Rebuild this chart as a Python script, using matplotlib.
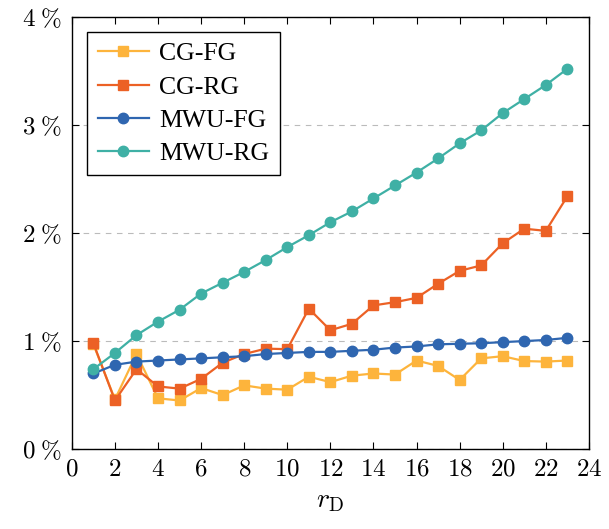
import matplotlib
matplotlib.use("Agg")
import matplotlib.pyplot as plt
from matplotlib.ticker import FuncFormatter

plt.rcParams.update({
    "font.family": ["Liberation Serif", "DejaVu Serif"],
    "mathtext.fontset": "cm",
    "axes.unicode_minus": False,
})

# data (percent)
r_d = list(range(1, 24))
cg_fg = [0.97, 0.46, 0.88, 0.47, 0.45, 0.565, 0.50, 0.59, 0.56, 0.55, 0.67, 0.62,
         0.68, 0.70, 0.69, 0.82, 0.77, 0.64, 0.84, 0.86, 0.815, 0.81, 0.82]
cg_rg = [0.98, 0.45, 0.74, 0.58, 0.56, 0.65, 0.80, 0.88, 0.93, 0.925, 1.30, 1.10,
         1.16, 1.33, 1.36, 1.40, 1.53, 1.65, 1.70, 1.905, 2.04, 2.02, 2.34]
mwu_fg = [0.70, 0.78, 0.81, 0.82, 0.83, 0.84, 0.85, 0.86, 0.88, 0.89, 0.90, 0.90,
          0.91, 0.92, 0.94, 0.95, 0.97, 0.975, 0.98, 0.99, 1.00, 1.01, 1.03]
mwu_rg = [0.74, 0.89, 1.055, 1.18, 1.29, 1.44, 1.54, 1.64, 1.75, 1.87, 1.98, 2.10,
          2.20, 2.32, 2.44, 2.56, 2.69, 2.83, 2.95, 3.11, 3.24, 3.37, 3.52]

series = [
    ("CG-FG", cg_fg, "#FDB43C", "s"),
    ("CG-RG", cg_rg, "#EC6125", "s"),
    ("MWU-FG", mwu_fg, "#2F66B0", "o"),
    ("MWU-RG", mwu_rg, "#3FB0A5", "o"),
]

fig = plt.figure(figsize=(6.09, 5.29), dpi=100)
ax = fig.add_axes([0.118, 0.151, 0.849, 0.817])

for label, vals, color, marker in series:
    ax.plot(r_d, vals, color=color, lw=1.6, marker=marker, ms=7.5,
            mec=color, mfc=color, label=label)

ax.set_xlim(0, 24)
ax.set_ylim(0, 4)
ax.set_xticks(range(0, 25, 2))
ax.set_yticks(range(0, 5))
ax.xaxis.set_major_formatter(FuncFormatter(lambda v, p: rf"${v:.0f}$"))
ax.yaxis.set_major_formatter(FuncFormatter(lambda v, p: rf"${v:.0f}\;\%$"))
ax.tick_params(direction="in", top=True, right=True, length=5, width=0.8,
               labelsize=18, pad=7)
for s in ax.spines.values():
    s.set_linewidth(1.0)

ax.grid(axis="y", color="#BBBBBB", lw=0.8, ls=(0, (5, 5)))
ax.set_axisbelow(True)

ax.set_xlabel(r"$r_{\mathrm{D}}$", fontsize=20, labelpad=6)

leg = ax.legend(loc="upper left", bbox_to_anchor=(0.03, 0.965), fontsize=18.5,
                frameon=True, fancybox=False, borderpad=0.4, labelspacing=0.4,
                handlelength=2.0, handletextpad=0.4, borderaxespad=0)
leg.get_frame().set_edgecolor("black")
leg.get_frame().set_linewidth(1.0)
leg.get_frame().set_alpha(1)

fig.savefig("out.png", dpi=100)
